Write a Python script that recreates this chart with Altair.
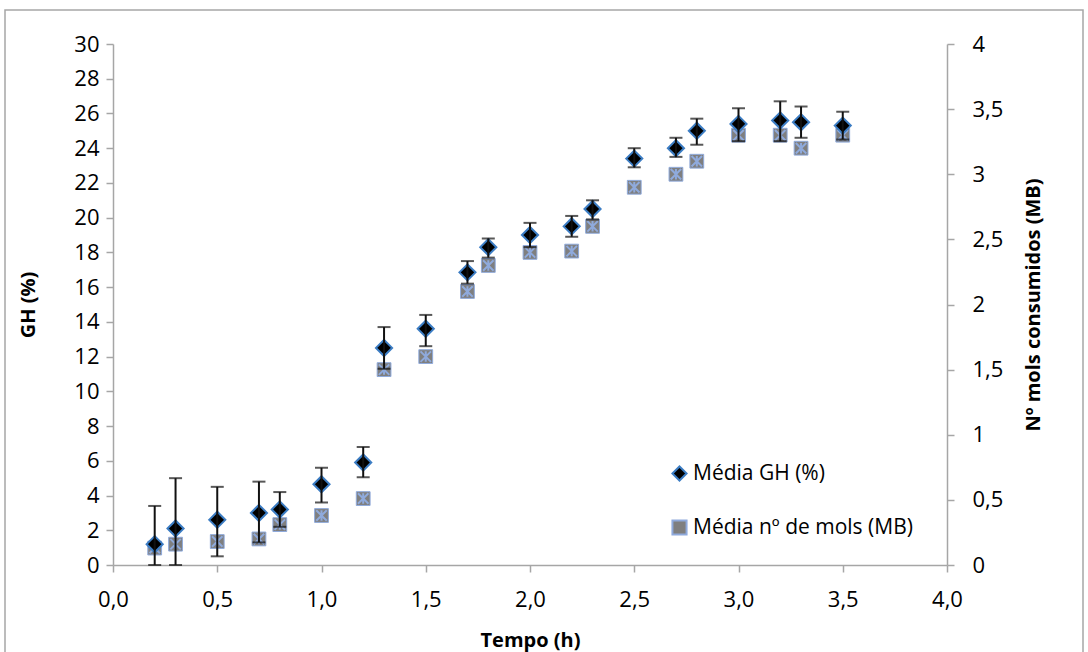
import altair as alt
import pandas as pd

# ---- data ----
tempo = [0.2, 0.3, 0.5, 0.7, 0.8, 1.0, 1.2, 1.3, 1.5, 1.7, 1.8, 2.0, 2.2, 2.3, 2.5, 2.7, 2.8, 3.0, 3.2, 3.3, 3.5]
gh = [1.2, 2.1, 2.6, 3.0, 3.2, 4.65, 5.9, 12.5, 13.6, 16.85, 18.3, 19.0, 19.5, 20.5, 23.4, 24.0, 25.0, 25.4, 25.6, 25.5, 25.3]
gh_low = [0.0, 0.0, 0.5, 1.3, 2.2, 3.6, 5.05, 11.3, 12.6, 16.2, 17.7, 18.3, 18.9, 19.9, 22.9, 23.5, 24.2, 24.4, 24.4, 24.6, 24.5]
gh_high = [3.4, 5.0, 4.5, 4.8, 4.2, 5.6, 6.8, 13.7, 14.4, 17.5, 18.8, 19.7, 20.1, 21.0, 24.0, 24.6, 25.7, 26.3, 26.7, 26.4, 26.1]
mb = [0.13, 0.16, 0.18, 0.2, 0.31, 0.38, 0.51, 1.5, 1.6, 2.1, 2.3, 2.4, 2.41, 2.6, 2.9, 3.0, 3.1, 3.3, 3.3, 3.2, 3.3]

serie_gh = "Média GH (%)"
serie_mb = "Média nº de mols (MB)"
x_ticks = [0, 0.5, 1, 1.5, 2, 2.5, 3, 3.5, 4]
left_ticks = list(range(0, 31, 2))
right_ticks = [0, 0.5, 1, 1.5, 2, 2.5, 3, 3.5, 4]

FONT = "Open Sans"
AXIS_GREY = "#A6A6A6"

df_gh = pd.DataFrame({"tempo": tempo, "gh": gh, "lo": gh_low, "hi": gh_high, "serie": serie_gh})
df_mb = pd.DataFrame({"tempo": tempo, "mb": mb, "serie": serie_mb})

x_scale = alt.Scale(domain=[0, 4], nice=False)
x_axis = alt.Axis(values=x_ticks, title="Tempo (h)",
                  labelExpr="replace(format(datum.value, '.1f'), '.', ',')",
                  labelPadding=17, titlePadding=20, labelFlush=False)
x_enc = alt.X("tempo:Q", scale=x_scale, axis=x_axis)

y_left_scale = alt.Scale(domain=[0, 30], nice=False)
y_left_axis = alt.Axis(values=left_ticks, orient="left", title="GH (%)",
                       labelPadding=7, titlePadding=35, labelOverlap=False, labelFlush=False)
y_right_scale = alt.Scale(domain=[0, 4], nice=False)
y_right_axis = alt.Axis(values=right_ticks, orient="right", title="Nº mols consumidos (MB)",
                        labelExpr="replace(toString(datum.value), '.', ',')",
                        labelPadding=18, titlePadding=41, titleAngle=270,
                        labelOverlap=False, labelFlush=False)

dom = [serie_gh, serie_mb]
shape_enc = alt.Shape("serie:N", title=None,
                      scale=alt.Scale(domain=dom, range=["diamond", "square"]))
fill_enc = alt.Fill("serie:N", title=None,
                    scale=alt.Scale(domain=dom, range=["#000000", "#7F7F7F"]))
stroke_enc = alt.Stroke("serie:N", title=None,
                        scale=alt.Scale(domain=dom, range=["#3C7DC4", "#8FAADC"]))

# ---- MB (right axis) ----
squares = alt.Chart(df_mb).mark_point(size=190, strokeWidth=1, opacity=1, filled=True).encode(
    x=x_enc,
    y=alt.Y("mb:Q", scale=y_right_scale, axis=y_right_axis),
    shape=shape_enc, fill=fill_enc, stroke=stroke_enc,
)
star = alt.Chart(df_mb).mark_point(
    shape="M-1,-1L1,1M-1,1L1,-1M0,-1L0,1", size=110, filled=False,
    stroke="#8FAADC", strokeWidth=2, opacity=1,
).encode(x=x_enc, y=alt.Y("mb:Q", scale=y_right_scale, axis=None))

# ---- GH (left axis) ----
diamonds = alt.Chart(df_gh).mark_point(size=260, strokeWidth=2, opacity=1, filled=True).encode(
    x=x_enc,
    y=alt.Y("gh:Q", scale=y_left_scale, axis=y_left_axis),
    shape=shape_enc, fill=fill_enc, stroke=stroke_enc,
)
err_rule = alt.Chart(df_gh).mark_rule(color="#111111", strokeWidth=2).encode(
    x=x_enc, y=alt.Y("lo:Q", scale=y_left_scale, axis=None), y2="hi:Q"
)
cap_hi = alt.Chart(df_gh).mark_tick(color="#111111", thickness=2, size=13, orient="horizontal").encode(
    x=x_enc, y=alt.Y("hi:Q", scale=y_left_scale, axis=None)
)
cap_lo = alt.Chart(df_gh).mark_tick(color="#111111", thickness=2, size=13, orient="horizontal").encode(
    x=x_enc, y=alt.Y("lo:Q", scale=y_left_scale, axis=None)
)

# ---- outer frame ----
frame = alt.Chart(pd.DataFrame({"k": [0]})).mark_rect(
    fill=None, stroke=AXIS_GREY, strokeWidth=1.5
).encode(x=alt.value(-108), x2=alt.value(970), y=alt.value(-34), y2=alt.value(640))

chart = alt.layer(frame, squares, star, diamonds, err_rule, cap_hi, cap_lo).resolve_scale(
    y="independent"
).properties(
    width=834, height=521,
    padding={"left": 113, "top": 44, "right": 141, "bottom": 87},
    autosize=alt.AutoSizeParams(type="none"),
).configure_view(stroke=None).configure_axis(
    grid=False, domainColor=AXIS_GREY, tickColor=AXIS_GREY, domainWidth=1.5, tickWidth=1.5,
    tickSize=7, labelFont=FONT, labelFontSize=22, labelColor="#000000",
    titleFont=FONT, titleFontSize=20, titleFontWeight="bold", titleColor="#000000",
).configure_legend(
    orient="none", legendX=556, legendY=419, labelFont=FONT, labelFontSize=21,
    labelColor="#000000", symbolSize=200, symbolStrokeWidth=2, rowPadding=31,
    labelOffset=3, labelLimit=0,
)

chart.save("out.html", embed_options={"renderer": "svg", "actions": False})
